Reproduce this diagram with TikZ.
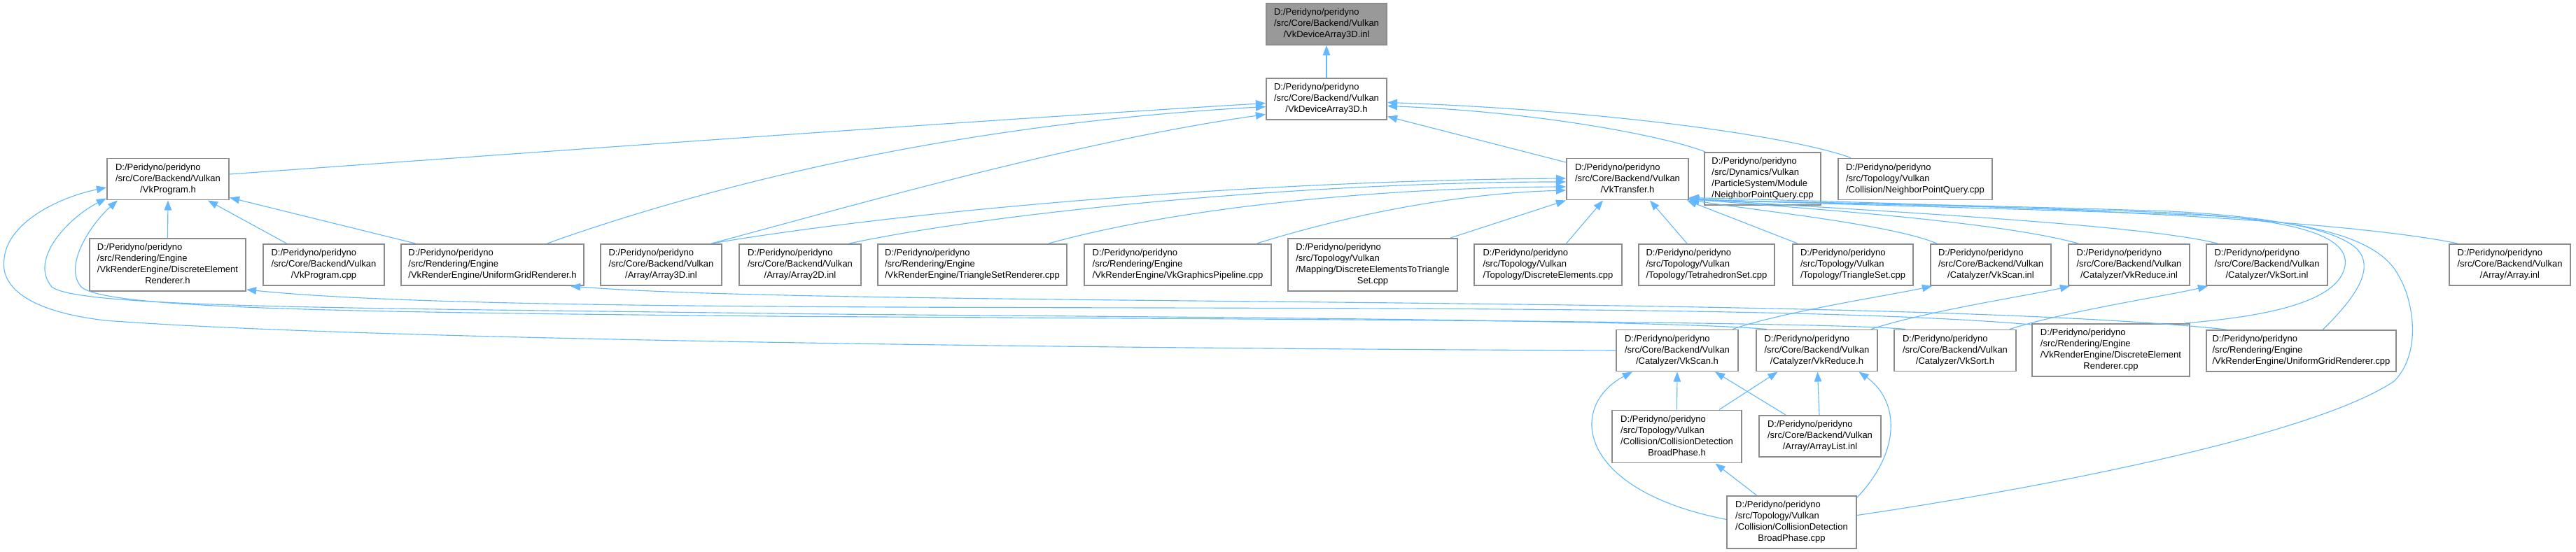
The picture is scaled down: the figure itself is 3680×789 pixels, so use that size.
\documentclass[tikz,border=0pt]{standalone}
\usepackage{fontspec}
\setmainfont{Liberation Sans}
\usetikzlibrary{arrows.meta,calc}
\definecolor{edgec}{HTML}{63B8FF}
\definecolor{boxc}{HTML}{8C8C8C}
\definecolor{rootc}{HTML}{999999}
\newcommand{\threel}[3]{\begin{tabular}{@{}l@{}}#1\\#2\\\multicolumn{1}{@{}c@{}}{#3}\end{tabular}}
\newcommand{\fourl}[4]{\begin{tabular}{@{}l@{}}#1\\#2\\#3\\\multicolumn{1}{@{}c@{}}{#4}\end{tabular}}
\newcommand{\pp}{D:/Peridyno/peridyno}
\newcommand{\cbv}{/src/Core/Backend/Vulkan}
\newcommand{\tv}{/src/Topology/Vulkan}
\newcommand{\re}{/src/Rendering/Engine}
\begin{document}
\begin{tikzpicture}[x=0.01cm,y=-0.01cm,
  box/.style={draw=boxc,line width=0.55pt,fill=white,rectangle,inner sep=0pt,
    font=\fontsize{3.7pt}{4.55pt}\selectfont},
  nthree/.style={minimum height=0.59cm},
  nfour/.style={minimum height=0.75cm},
  edge/.style={draw=edgec,line width=0.32pt,-{Triangle[length=4pt,width=3pt]}}]
\useasboundingbox (0,0) rectangle (3680,789);
% row 0,1
\node[box,nthree,fill=rootc,minimum width=1.72cm] (N0) at (1895,34.5) {\threel{\pp}{\cbv}{/VkDeviceArray3D.inl}};
\node[box,nthree,minimum width=1.72cm] (N1) at (1895,141.5) {\threel{\pp}{\cbv}{/VkDeviceArray3D.h}};
% row 2
\node[box,nthree,minimum width=1.74cm] (P) at (240,256) {\threel{\pp}{\cbv}{/VkProgram.h}};
\node[box,nthree,minimum width=1.74cm] (T) at (2325,256) {\threel{\pp}{\cbv}{/VkTransfer.h}};
\node[box,nfour,minimum width=1.66cm] (Dyn) at (2518,255.5) {\fourl{\pp}{/src/Dynamics/Vulkan}{/ParticleSystem/Module}{/NeighborPointQuery.cpp}};
\node[box,nthree,minimum width=2.20cm] (Top) at (2736,256) {\threel{\pp}{\tv}{/Collision/NeighborPointQuery.cpp}};
% row 3
\node[box,nfour,minimum width=2.23cm] (DERh) at (239.5,378.5) {\fourl{\pp}{\re}{/VkRenderEngine/DiscreteElement}{Renderer.h}};
\node[box,nthree,minimum width=1.73cm] (Pcpp) at (462.5,378.5) {\threel{\pp}{\cbv}{/VkProgram.cpp}};
\node[box,nthree,minimum width=2.61cm] (UGRh) at (703.5,378.5) {\threel{\pp}{\re}{/VkRenderEngine/UniformGridRenderer.h}};
\node[box,nthree,minimum width=1.73cm] (A3D) at (944.5,378.5) {\threel{\pp}{\cbv}{/Array/Array3D.inl}};
\node[box,nthree,minimum width=1.74cm] (A2D) at (1143,378.5) {\threel{\pp}{\cbv}{/Array/Array2D.inl}};
\node[box,nthree,minimum width=2.70cm] (TSR) at (1389,378.5) {\threel{\pp}{\re}{/VkRenderEngine/TriangleSetRenderer.cpp}};
\node[box,nthree,minimum width=2.67cm] (VkGP) at (1682.5,378.5) {\threel{\pp}{\re}{/VkRenderEngine/VkGraphicsPipeline.cpp}};
\node[box,nfour,minimum width=2.42cm] (DE2TS) at (1961,378.5) {\fourl{\pp}{\tv}{/Mapping/DiscreteElementsToTriangle}{Set.cpp}};
\node[box,nthree,minimum width=2.11cm] (DE) at (2211.5,378.5) {\threel{\pp}{\tv}{/Topology/DiscreteElements.cpp}};
\node[box,nthree,minimum width=1.94cm] (Tet) at (2438,378.5) {\threel{\pp}{\tv}{/Topology/TetrahedronSet.cpp}};
\node[box,nthree,minimum width=1.72cm] (TriS) at (2647,378.5) {\threel{\pp}{\tv}{/Topology/TriangleSet.cpp}};
\node[box,nthree,minimum width=1.72cm] (ScanInl) at (2844,378.5) {\threel{\pp}{\cbv}{/Catalyzer/VkScan.inl}};
\node[box,nthree,minimum width=1.73cm] (ReduceInl) at (3041.5,378.5) {\threel{\pp}{\cbv}{/Catalyzer/VkReduce.inl}};
\node[box,nthree,minimum width=1.73cm] (SortInl) at (3238.5,378.5) {\threel{\pp}{\cbv}{/Catalyzer/VkSort.inl}};
\node[box,nthree,minimum width=1.73cm] (ArrayInl) at (3585.5,378.5) {\threel{\pp}{\cbv}{/Array/Array.inl}};
% row 4
\node[box,nthree,minimum width=1.74cm] (ScanH) at (2396,501) {\threel{\pp}{\cbv}{/Catalyzer/VkScan.h}};
\node[box,nthree,minimum width=1.73cm] (ReduceH) at (2595.5,501) {\threel{\pp}{\cbv}{/Catalyzer/VkReduce.h}};
\node[box,nthree,minimum width=1.74cm] (SortH) at (2793,501) {\threel{\pp}{\cbv}{/Catalyzer/VkSort.h}};
\node[box,nfour,minimum width=2.25cm] (DERcpp) at (3015.5,500.5) {\fourl{\pp}{\re}{/VkRenderEngine/DiscreteElement}{Renderer.cpp}};
\node[box,nthree,minimum width=2.71cm] (UGRcpp) at (3287.5,501.5) {\threel{\pp}{\re}{/VkRenderEngine/UniformGridRenderer.cpp}};
% row 5,6
\node[box,nfour,minimum width=1.85cm] (BPh) at (2395.5,624) {\fourl{\pp}{\tv}{/Collision/CollisionDetection}{BroadPhase.h}};
\node[box,nthree,minimum width=1.74cm] (ArrayList) at (2600,623.5) {\threel{\pp}{\cbv}{/Array/ArrayList.inl}};
\node[box,nfour,minimum width=1.85cm] (BPcpp) at (2559.5,746.5) {\fourl{\pp}{\tv}{/Collision/CollisionDetection}{BroadPhase.cpp}};

% edges into N0, N1
\draw[edge] (N1.north) -- (N0.south);
\draw[edge] ($(P.east)+(0,-7)$) .. controls (800,215) and (1400,172) .. ($(N1.west)+(0,6)$);
\draw[edge] ($(UGRh.north)+(78,0)$) .. controls (1000,270) and (1350,178) .. ($(N1.west)+(0,11)$);
\draw[edge] ($(A3D.north)+(72,0)$) .. controls (1250,285) and (1550,200) .. ($(N1.west)+(0,22)$);
\draw[edge] ($(T.west)+(0,-24)$) -- ($(N1.east)+(0,25)$);
\draw[edge] ($(Dyn.north west)+(2,0)$) .. controls (2380,195) and (2200,160) .. ($(N1.east)+(0,10)$);
\draw[edge] ($(Top.north west)+(19,0)$) .. controls (2560,195) and (2300,158) .. ($(N1.east)+(0,5)$);
% edges into P
\draw[edge] (DERh.north) -- (P.south);
\draw[edge] ($(Pcpp.north)+(-53,0)$) -- ($(P.south)+(57,0)$);
\draw[edge] ($(UGRh.north)+(-110,0)$) -- ($(P.south east)+(0,-4)$);
\draw[edge] (ScanH.west) .. controls (1500,498) and (500,485) .. (150,458) .. controls (40,445) and (0,410) .. (6,370) .. controls (10,320) and (80,283) .. ($(P.west)+(0,12)$);
\draw[edge] ($(ReduceH.north west)+(16,0)$) .. controls (2350,455) and (1400,452) .. (1100,448) .. controls (500,440) and (110,440) .. (74,410) .. controls (40,370) and (100,310) .. ($(P.south west)+(0,-3)$);
\draw[edge] ($(SortH.north west)+(17,0)$) .. controls (2600,458) and (1500,455) .. (1100,452) .. controls (500,446) and (150,442) .. (116,410) .. controls (90,380) and (130,320) .. ($(P.south west)+(16,0)$);
% edges into T from the left and below
\draw[edge] ($(A3D.north)+(72,0)$) .. controls (1300,300) and (1800,258) .. ($(T.west)+(0,-1)$);
\draw[edge] ($(A2D.north)+(70,0)$) .. controls (1450,298) and (1900,260) .. ($(T.west)+(0,4)$);
\draw[edge] ($(TSR.north)+(109,0)$) .. controls (1700,292) and (2000,268) .. ($(T.west)+(0,11)$);
\draw[edge] ($(VkGP.north)+(113,0)$) .. controls (1950,300) and (2100,276) .. ($(T.west)+(0,16)$);
\draw[edge] ($(DE2TS.north east)+(-11,0)$) -- (T.south west);
\draw[edge] ($(DE.north)+(26,0)$) -- ($(T.south)+(-35,0)$);
\draw[edge] ($(Tet.north)+(-28,0)$) -- ($(T.south)+(32,0)$);
\draw[edge] ($(TriS.north)+(-79,0)$) -- ($(T.south east)+(-3,0)$);
\draw[edge] ($(ScanInl.north west)+(10,0)$) .. controls (2700,320) and (2500,300) .. ($(T.south east)+(0,-1)$);
\draw[edge] ($(ReduceInl.north west)+(15,0)$) .. controls (2850,315) and (2550,296) .. ($(T.south east)+(0,-2)$);
\draw[edge] ($(SortInl.north west)+(17,0)$) .. controls (3050,318) and (2600,298) .. ($(T.south east)+(0,-3)$);
\draw[edge] ($(ArrayInl.north west)+(13,0)$) .. controls (3300,305) and (2700,290) .. ($(T.south east)+(0,-4)$);
\draw[edge] ($(DERcpp.north east)+(-8,0)$) .. controls (3200,455) and (3340,440) .. (3350,380) .. controls (3358,330) and (3250,312) .. (3100,304) .. controls (2800,293) and (2500,289) .. ($(T.south east)+(0,-2)$);
\draw[edge] ($(UGRcpp.north)+(31,0)$) .. controls (3360,430) and (3385,395) .. (3375,368) .. controls (3362,330) and (3250,310) .. (3100,302) .. controls (2800,292) and (2500,288) .. ($(T.south east)+(0,-1)$);
\draw[edge] ($(BPcpp.east)+(0,-10)$) .. controls (2900,700) and (3300,625) .. (3420,545) .. controls (3460,505) and (3448,430) .. (3427,395) .. controls (3400,340) and (3300,312) .. (3100,306) .. controls (2800,296) and (2500,289) .. ($(T.south east)+(0,-3)$);
% renderer cpp back to headers
\draw[edge] ($(DERcpp.north west)+(0,2)$) .. controls (2400,420) and (800,460) .. ($(DERh.south east)+(0,-3)$);
\draw[edge] ($(UGRcpp.north west)+(30,0)$) .. controls (2700,420) and (1200,440) .. ($(UGRh.south east)+(-20,0)$);
% catalyzer headers to inl
\draw[edge] ($(ScanH.north east)+(-9,0)$) .. controls (2550,445) and (2700,422) .. ($(ScanInl.south west)+(3,0)$);
\draw[edge] ($(ReduceH.north east)+(-10,0)$) .. controls (2750,445) and (2900,422) .. ($(ReduceInl.south west)+(3,0)$);
\draw[edge] ($(SortH.north east)+(-10,0)$) .. controls (2950,445) and (3100,422) .. ($(SortInl.south west)+(3,0)$);
% lower part
\draw[edge] (BPh.north) -- (ScanH.south);
\draw[edge] ($(BPh.north east)+(-33,0)$) -- ($(ReduceH.south)+(-56,0)$);
\draw[edge] ($(ArrayList.north)+(-49,0)$) -- ($(ScanH.south)+(54,0)$);
\draw[edge] ($(ArrayList.north)+(-1,0)$) -- ($(ReduceH.south)+(1,0)$);
\draw[edge] ($(BPcpp.north)+(-50,0)$) -- ($(BPh.south)+(55,0)$);
\draw[edge] ($(BPcpp.west)+(0,-4)$) .. controls (2250,700) and (2240,580) .. ($(ScanH.south west)+(24,0)$);
\draw[edge] ($(BPcpp.north east)+(0,3)$) .. controls (2720,640) and (2710,570) .. ($(ReduceH.south)+(60,0)$);
\end{tikzpicture}
\end{document}
